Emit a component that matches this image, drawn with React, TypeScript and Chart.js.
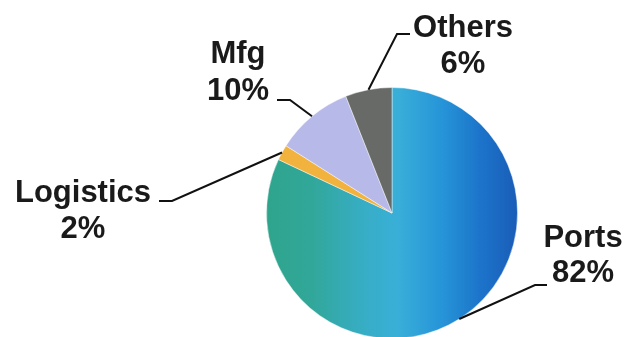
import React, { useEffect, useRef } from "react";
import { Chart, registerables } from "chart.js";

Chart.register(...registerables);

// Share of business by segment (percent)
const segments = ["Ports", "Logistics", "Mfg", "Others"];
const shares = [82, 2, 10, 6];
const sliceColors = ["ports-gradient", "#f2b23e", "#b7b9e9", "#676a67"];

// Callout placement for each segment: leader elbow, leader end, text centre and line baselines
const callouts = [
  { elbow: [535, 285], end: [547, 285], tx: 583, ty: [247, 282] },
  { elbow: [172, 201], end: [159, 201], tx: 83, ty: [202, 238] },
  { elbow: [290, 100], end: [277, 100], tx: 238, ty: [63, 100] },
  { elbow: [397, 34], end: [410, 34], tx: 463, ty: [37, 73] },
];

const calloutPlugin = {
  id: "callouts",
  afterDraw(chart: any) {
    const { ctx } = chart;
    const meta = chart.getDatasetMeta(0);
    ctx.save();
    meta.data.forEach((arc: any, i: number) => {
      const { x, y, startAngle, endAngle, outerRadius } = arc.getProps(
        ["x", "y", "startAngle", "endAngle", "outerRadius"],
        true
      );
      const mid = (startAngle + endAngle) / 2;
      const sx = x + Math.cos(mid) * outerRadius;
      const sy = y + Math.sin(mid) * outerRadius;
      const c = callouts[i];
      ctx.beginPath();
      ctx.moveTo(sx, sy);
      ctx.lineTo(c.elbow[0], c.elbow[1]);
      ctx.lineTo(c.end[0], c.end[1]);
      ctx.strokeStyle = "#111111";
      ctx.lineWidth = 2;
      ctx.stroke();

      ctx.fillStyle = "#1a1a1a";
      ctx.font = "bold 31px 'Liberation Sans', Arial, sans-serif";
      ctx.textAlign = "center";
      ctx.textBaseline = "alphabetic";
      ctx.fillText(chart.data.labels[i], c.tx, c.ty[0]);
      ctx.fillText(`${chart.data.datasets[0].data[i]}%`, c.tx, c.ty[1]);
    });
    ctx.restore();
  },
};

function portsGradient(chart: any) {
  const area = chart.chartArea;
  if (!area) return "#38aed0";
  const g = chart.ctx.createLinearGradient(area.left, 0, area.right, 0);
  g.addColorStop(0, "#2fa48c");
  g.addColorStop(0.18, "#31a79a");
  g.addColorStop(0.38, "#37adc4");
  g.addColorStop(0.52, "#39afd8");
  g.addColorStop(0.7, "#2694d8");
  g.addColorStop(0.85, "#1c74ca");
  g.addColorStop(1, "#1a5cb8");
  return g;
}

export default function App() {
  const canvasRef = useRef<HTMLCanvasElement | null>(null);

  useEffect(() => {
    const canvas = canvasRef.current;
    if (!canvas) return;
    const chart = new Chart(canvas, {
      type: "pie",
      data: {
        labels: segments,
        datasets: [
          {
            data: shares,
            backgroundColor: (c: any) =>
              sliceColors[c.dataIndex] === "ports-gradient"
                ? portsGradient(c.chart)
                : sliceColors[c.dataIndex],
            borderColor: "rgba(255,255,255,0.45)",
            borderWidth: 1,
            hoverOffset: 0,
          },
        ],
      },
      options: {
        responsive: false,
        animation: false,
        events: [],
        layout: { padding: { left: 266, right: 110, top: 87, bottom: 11 } },
        plugins: {
          legend: { display: false },
          tooltip: { enabled: false },
        },
      },
      plugins: [calloutPlugin],
    });
    return () => chart.destroy();
  }, []);

  return (
    <div
      style={{
        position: "fixed",
        left: 0,
        top: 0,
        width: 628,
        height: 337,
        overflow: "hidden",
        background: "#ffffff",
      }}
    >
      <canvas ref={canvasRef} width={628} height={350} style={{ display: "block" }} />
    </div>
  );
}
